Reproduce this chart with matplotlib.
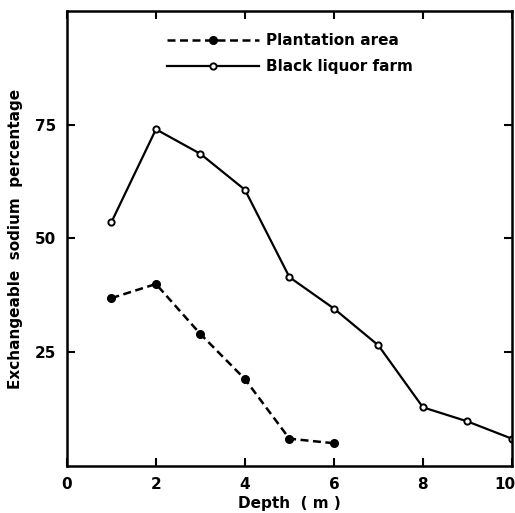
import matplotlib
matplotlib.use("Agg")
import matplotlib.pyplot as plt
import matplotlib.transforms as mtransforms

depth_plant = [1, 2, 3, 4, 5, 6]
esp_plant = [36.9, 40.0, 29.0, 19.1, 6.0, 5.0]
depth_black = [1, 2, 3, 4, 5, 6, 7, 8, 9, 10]
esp_black = [53.6, 74.0, 68.6, 60.7, 41.5, 34.6, 26.5, 12.9, 9.8, 6.0]
xticks = [0, 2, 4, 6, 8, 10]
yticks = [25, 50, 75]

plt.rcParams['font.family'] = ['DejaVu Sans']
plt.rcParams['font.weight'] = 'bold'

fig = plt.figure(figsize=(5.15, 5.13), dpi=100)
ax = fig.add_axes([0.130, 0.0916, 0.864, 0.887])

ax.plot(depth_plant, esp_plant, color='black', lw=1.8, ls=(0, (3.2, 1.8)),
        marker='o', ms=5.5, mfc='black', mec='black', label='Plantation area')
ax.plot(depth_black, esp_black, color='black', lw=1.6, ls='-',
        marker='o', ms=4.5, mfc='white', mec='black', mew=1.4,
        label='Black liquor farm')

ax.set_xlim(0, 10)
ax.set_ylim(0, 100)
ax.set_xticks(xticks)
ax.set_yticks(yticks)
ax.tick_params(direction='in', length=6, width=1.5, top=True, right=True,
               labelsize=11, pad=8)
for lab in ax.get_xticklabels() + ax.get_yticklabels():
    lab.set_fontweight('bold')
last = ax.get_xticklabels()[-1]
last.set_transform(last.get_transform() +
                   mtransforms.ScaledTranslation(-5/72, 0, fig.dpi_scale_trans))
for s in ax.spines.values():
    s.set_linewidth(1.8)

ax.set_xlabel('Depth  ( m )', fontsize=11, fontweight='bold', labelpad=3)
ax.set_ylabel('Exchangeable  sodium  percentage', fontsize=11,
              fontweight='bold', labelpad=8)

leg = ax.legend(loc='upper left', bbox_to_anchor=(0.225, 0.951), frameon=False,
                borderaxespad=0, borderpad=0,
                numpoints=1, handlelength=6.0, fontsize=11, handletextpad=0.5,
                labelspacing=0.7)
for t in leg.get_texts():
    t.set_fontweight('bold')

fig.savefig('out.png', dpi=100)
